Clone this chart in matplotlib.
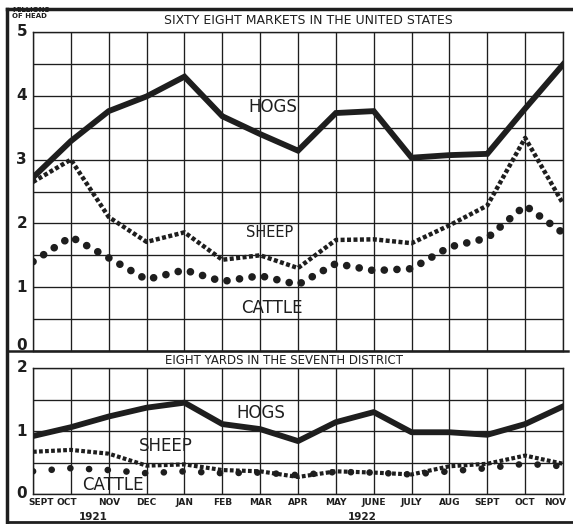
import matplotlib.pyplot as plt
import numpy as np

months = ["SEPT", "OCT", "NOV", "DEC", "JAN", "FEB", "MAR", "APR", "MAY",
          "JUNE", "JULY", "AUG", "SEPT", "OCT", "NOV"]

# sixty eight markets, millions of head
us_hogs = [2.72, 3.29, 3.76, 3.99, 4.30, 3.68, 3.40, 3.14, 3.73, 3.76,
           3.03, 3.07, 3.09, 3.80, 4.49]
us_sheep = [2.65, 3.00, 2.10, 1.71, 1.86, 1.43, 1.50, 1.30, 1.74, 1.75,
            1.69, 1.97, 2.28, 3.34, 2.31]
us_cattle = [1.40, 1.79, 1.46, 1.12, 1.27, 1.09, 1.18, 1.04, 1.37, 1.26,
             1.29, 1.63, 1.77, 2.28, 1.85]

# eight yards, seventh district
d7_hogs = [0.92, 1.06, 1.23, 1.37, 1.45, 1.11, 1.03, 0.84, 1.14, 1.30,
           0.98, 0.98, 0.94, 1.11, 1.39]
d7_sheep = [0.67, 0.70, 0.64, 0.45, 0.47, 0.38, 0.36, 0.27, 0.36, 0.34,
            0.31, 0.44, 0.48, 0.61, 0.48]
d7_cattle = [0.36, 0.41, 0.38, 0.33, 0.36, 0.33, 0.34, 0.30, 0.35, 0.34,
             0.31, 0.36, 0.41, 0.48, 0.44]

ink = "#1e1e1e"
x = np.arange(len(months))

fig = plt.figure(figsize=(5.73, 5.24), dpi=100)
W, H = 573, 524


def rect(l, t, r, b):
    return [l / W, 1 - b / H, (r - l) / W, (b - t) / H]


ax1 = fig.add_axes(rect(33, 32, 563, 351))
ax2 = fig.add_axes(rect(33, 368, 563, 494))


def setup(ax, top):
    ax.set_xlim(0, len(months) - 1)
    ax.set_ylim(0, top)
    ax.set_xticks(x)
    ax.set_yticks(np.arange(0, top + 0.01, 0.5))
    ax.grid(True, color=ink, lw=0.95)
    ax.tick_params(length=0, labelleft=False, labelbottom=False)
    for s in ax.spines.values():
        s.set_color(ink)
        s.set_linewidth(1.0)
    ax.set_axisbelow(True)
    for v in range(0, int(top) + 1):
        yy = v + 0.08 if (v == 0 and top == 5) else v
        ax.text(-0.3, yy, str(v), ha="center", va="center", fontsize=11,
                color=ink, fontweight="bold", clip_on=False)


setup(ax1, 5)
setup(ax2, 2)

# top panel
ax1.plot(x, us_hogs, color=ink, lw=4.2, solid_joinstyle="miter")
ax1.plot(x, us_sheep, color=ink, lw=3.2, ls=(0, (0.9, 0.55)))
ax1.plot(x, us_cattle, color=ink, lw=5.5, ls=(0, (0.01, 1.65)),
         dash_capstyle="round")
ax1.text(6.34, 3.82, "HOGS", ha="center", va="center", fontsize=12, color=ink)
ax1.text(6.26, 1.85, "SHEEP", ha="center", va="center", fontsize=10.5, color=ink)
ax1.text(6.31, 0.68, "CATTLE", ha="center", va="center", fontsize=12, color=ink)

# bottom panel
ax2.plot(x, d7_hogs, color=ink, lw=4.2)
ax2.plot(x, d7_sheep, color=ink, lw=3.0, ls=(0, (0.9, 0.55)))
ax2.plot(x, d7_cattle, color=ink, lw=4.8, ls=(0, (0.01, 2.8)),
         dash_capstyle="round")
ax2.text(6.02, 1.29, "HOGS", ha="center", va="center", fontsize=12, color=ink)
ax2.text(3.51, 0.76, "SHEEP", ha="center", va="center", fontsize=12, color=ink)
ax2.text(2.11, 0.14, "CATTLE", ha="center", va="center", fontsize=12, color=ink)

# month labels
label_x = [0.22, 0.88] + list(x[2:-1]) + [13.8]
for xi, m in zip(label_x, months):
    ax2.text(xi, -0.14, m, ha="center", va="center", fontsize=6.5,
             color=ink, fontweight="bold", clip_on=False)
ax2.text(1.6, -0.36, "1921", ha="center", va="center", fontsize=7.5,
         color=ink, fontweight="bold", clip_on=False)
ax2.text(8.7, -0.36, "1922", ha="center", va="center", fontsize=7.5,
         color=ink, fontweight="bold", clip_on=False)

# titles and frame
fig.text(308 / W, 1 - 20 / H, "SIXTY EIGHT MARKETS IN THE UNITED STATES",
         ha="center", va="center", fontsize=9, color=ink)
fig.text(284 / W, 1 - 360 / H, "EIGHT YARDS IN THE SEVENTH DISTRICT",
         ha="center", va="center", fontsize=8.5, color=ink)
fig.text(12 / W, 1 - 13 / H, "MILLIONS\nOF HEAD", ha="left", va="center",
         fontsize=5, color=ink, fontweight="bold", linespacing=0.9)

fig.add_artist(plt.Line2D([7 / W, 1], [1 - 9 / H] * 2, color=ink, lw=2.5))
fig.add_artist(plt.Line2D([7 / W, 7 / W], [1 - 9 / H, 1 - 522 / H],
                          color=ink, lw=2.5))
fig.add_artist(plt.Line2D([7 / W, 1], [1 - 522 / H] * 2, color=ink, lw=2.0))
fig.add_artist(plt.Line2D([7 / W, 568 / W], [1 - 351 / H] * 2, color=ink, lw=1.8))

fig.savefig("out.png", dpi=100)
